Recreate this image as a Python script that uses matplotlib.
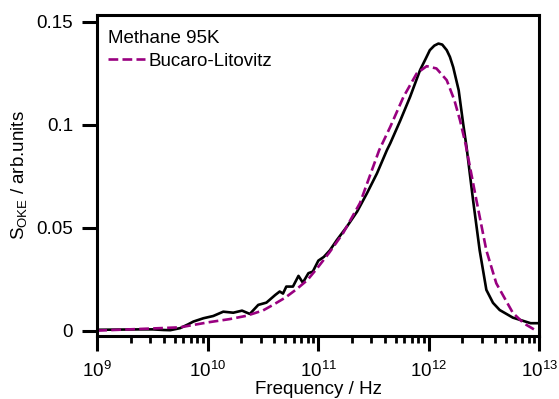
import matplotlib
matplotlib.use("Agg")
import matplotlib.pyplot as plt
import numpy as np
from matplotlib.ticker import LogLocator, NullFormatter, FixedLocator, FixedFormatter

plt.rcParams['font.family'] = ['Liberation Sans', 'DejaVu Sans']
plt.rcParams['mathtext.fontset'] = 'custom'
plt.rcParams['mathtext.rm'] = 'Liberation Sans'
plt.rcParams['mathtext.it'] = 'Liberation Sans'
plt.rcParams['mathtext.bf'] = 'Liberation Sans'

# Measured OKE spectrum (Methane 95K)
freq_meas = [1.0e9, 1.58e9, 2.51e9, 3.16e9, 3.98e9, 4.57e9, 5.62e9, 6.61e9, 7.41e9,
             9.12e9, 1.12e10, 1.38e10, 1.70e10, 2.04e10, 2.40e10, 2.86e10, 3.39e10,
             4.07e10, 4.47e10, 4.79e10, 5.13e10, 5.89e10, 6.61e10, 7.24e10, 8.13e10,
             8.91e10, 1.0e11, 1.12e11, 1.27e11, 1.47e11, 1.81e11, 2.24e11, 2.75e11,
             3.39e11, 4.17e11, 4.47e11, 5.50e11, 6.76e11, 8.32e11, 9.33e11, 1.02e12,
             1.12e12, 1.22e12, 1.32e12, 1.45e12, 1.55e12, 1.66e12, 1.86e12, 2.04e12,
             2.19e12, 2.51e12, 2.88e12, 3.31e12, 3.80e12, 4.37e12, 5.75e12, 8.32e12, 1.0e13]
s_meas = [0.0004, 0.0005, 0.0006, 0.0006, 0.0003, 0.0002, 0.0012, 0.0030, 0.0044,
          0.0060, 0.0071, 0.0092, 0.0087, 0.0097, 0.0081, 0.0125, 0.0136,
          0.0173, 0.0190, 0.0180, 0.0214, 0.0214, 0.0266, 0.0233, 0.0279,
          0.0287, 0.0340, 0.0358, 0.0390, 0.0440, 0.0505, 0.0578, 0.0667,
          0.0764, 0.0877, 0.0910, 0.1020, 0.1136, 0.1266, 0.1320, 0.1363,
          0.1385, 0.1395, 0.1390, 0.1363, 0.1330, 0.1280, 0.1168, 0.1007,
          0.0893, 0.0634, 0.0390, 0.0198, 0.0135, 0.0100, 0.0063, 0.0036, 0.0036]

# Bucaro-Litovitz fit
freq_bl = [1.0e9, 3.02e9, 5.62e9, 1.0e10, 1.58e10, 2.24e10, 3.16e10, 3.89e10, 5.01e10,
           6.31e10, 7.94e10, 9.66e10, 1.26e11, 1.68e11, 2.38e11, 3.55e11, 4.47e11,
           5.89e11, 7.76e11, 9.55e11, 1.17e12, 1.45e12, 1.70e12, 1.91e12, 2.14e12,
           2.69e12, 3.31e12, 4.07e12, 5.75e12, 7.24e12, 9.12e12]
s_bl = [0.0, 0.0010, 0.0016, 0.0040, 0.0056, 0.0072, 0.0098, 0.0125, 0.0160,
        0.0200, 0.0245, 0.0300, 0.0380, 0.0475, 0.0620, 0.0877, 0.0990,
        0.1136, 0.1250, 0.1285, 0.1274, 0.1217, 0.1120, 0.1023, 0.0910,
        0.0634, 0.0390, 0.0230, 0.0086, 0.0035, 0.0003]

y_ticks = [0, 0.05, 0.1, 0.15]
y_ticklabels = ["0", "0.05", "0.1", "0.15"]

FS = 13.5

fig = plt.figure(figsize=(5.59, 3.99), dpi=100)
ax = fig.add_axes([0.174, 0.158, 0.791, 0.804])

ax.plot(freq_meas, s_meas, color='black', lw=1.9, solid_joinstyle='round')
ax.plot(freq_bl, s_bl, color='#990080', lw=1.9, dashes=(3.7, 1.6),
        label='Bucaro-Litovitz')

ax.set_xscale('log')
ax.set_xlim(1e9, 1e13)
ax.set_ylim(-0.0026, 0.1533)

ax.xaxis.set_major_locator(LogLocator(base=10, numticks=10))
ax.xaxis.set_minor_locator(LogLocator(base=10, subs=np.arange(2, 10), numticks=100))
ax.xaxis.set_minor_formatter(NullFormatter())
ax.yaxis.set_major_locator(FixedLocator(y_ticks))
ax.yaxis.set_major_formatter(FixedFormatter(y_ticklabels))

for sp in ax.spines.values():
    sp.set_linewidth(2.2)

ax.tick_params(axis='both', which='major', direction='out', length=10.5, width=2.2,
               labelsize=FS)
ax.tick_params(axis='x', which='major', pad=7.5)
ax.tick_params(axis='y', which='major', pad=7)
ax.tick_params(axis='x', which='minor', direction='out', length=5, width=2.0)
ax.tick_params(axis='y', which='minor', left=False)

ax.set_xlabel('Frequency / Hz', fontsize=FS, labelpad=0)
ax.set_ylabel(r'S$_{\mathrm{OKE}}$ / arb.units', fontsize=FS, labelpad=5.5)

leg = ax.legend(loc='upper left', bbox_to_anchor=(-4.0 / 442, 1.0),
                frameon=False, title='Methane 95K',
                fontsize=FS, title_fontsize=FS, handlelength=1.95,
                handletextpad=0.2, borderaxespad=0.6, borderpad=0.2,
                labelspacing=0.1, alignment='left')
leg._legend_box.sep = 4

fig.savefig('out.png', dpi=100)
